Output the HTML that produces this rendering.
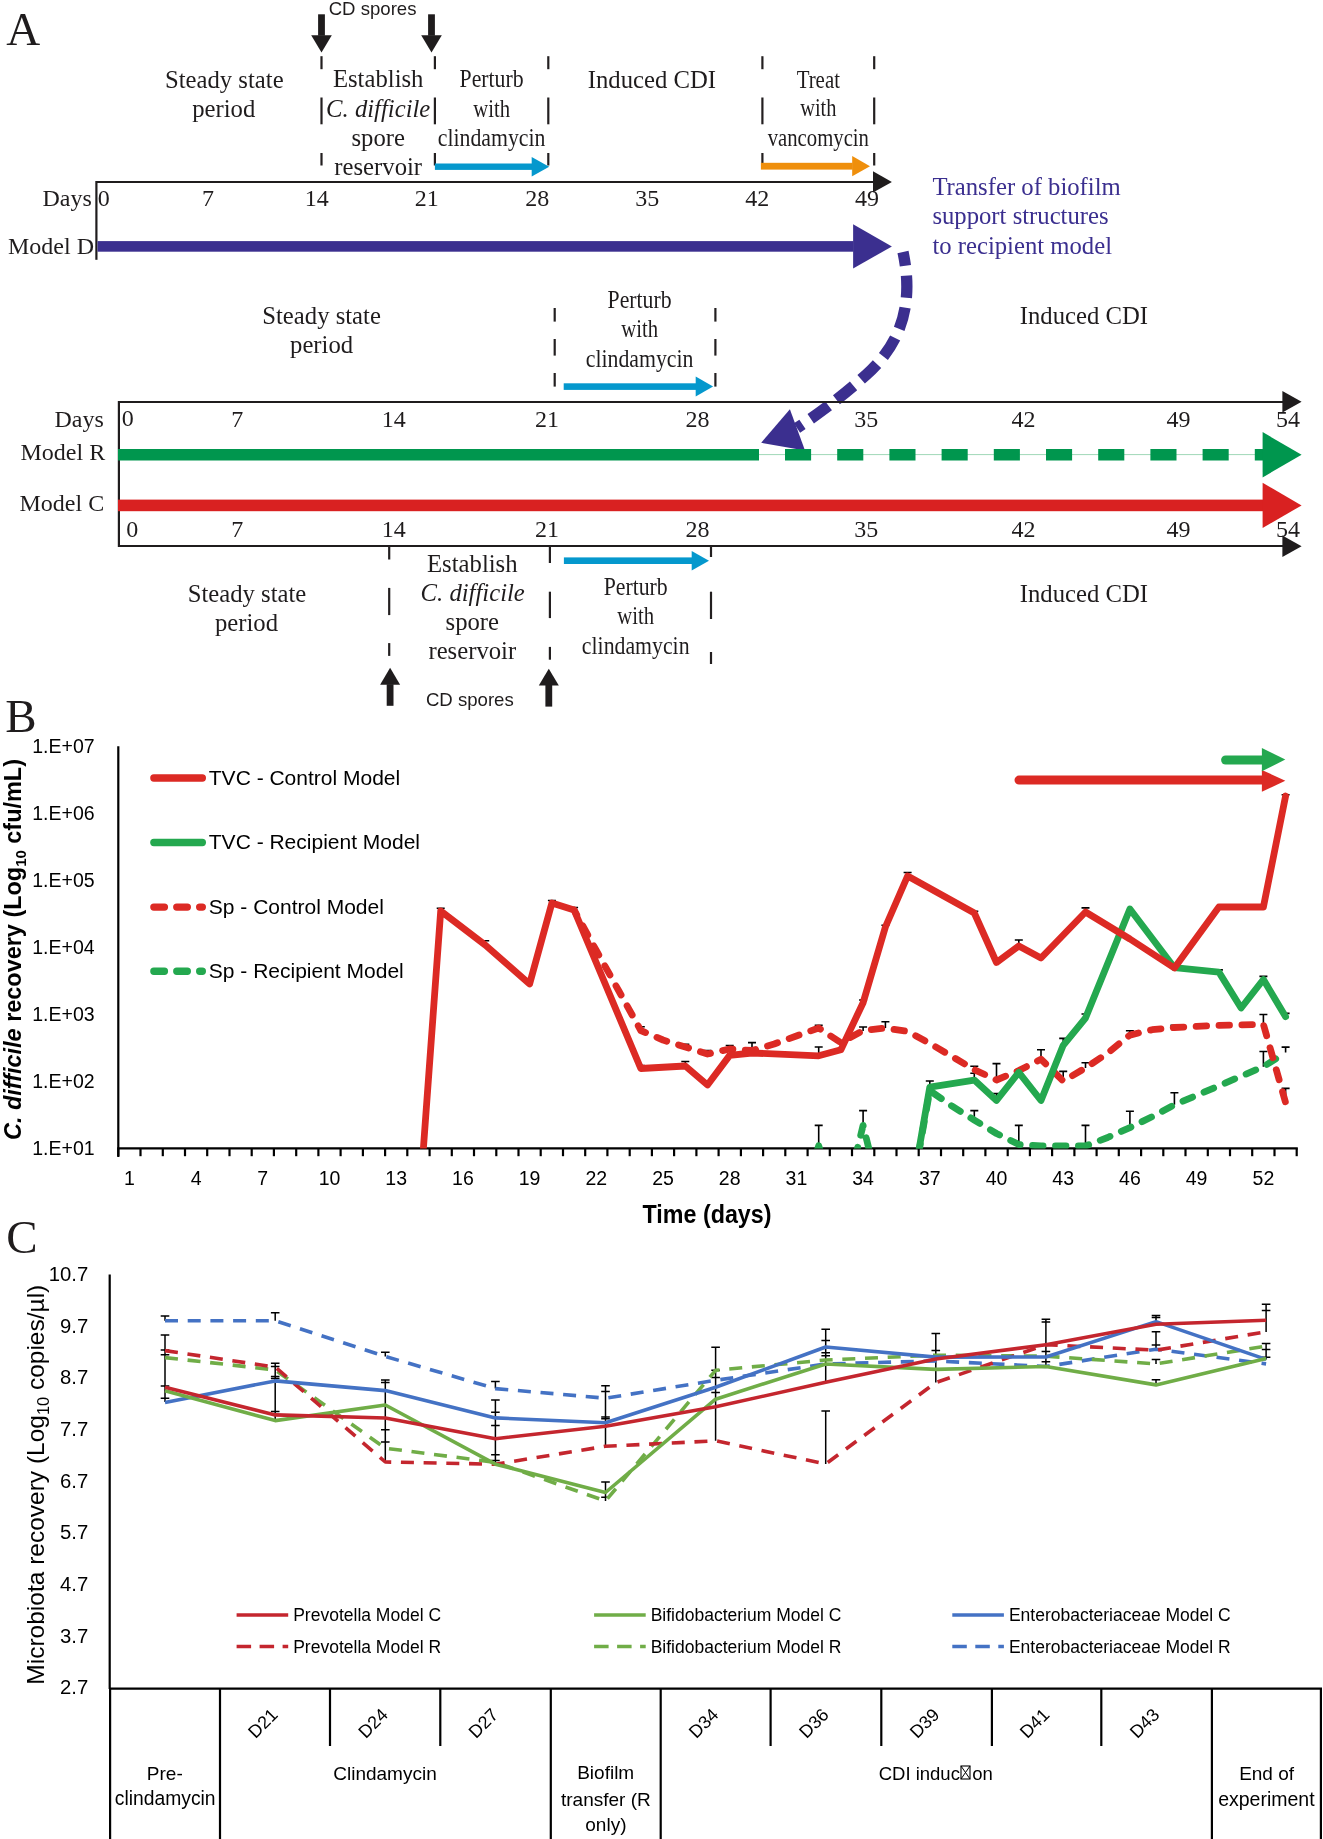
<!DOCTYPE html>
<html><head><meta charset="utf-8"><title>figure</title>
<style>
html,body{margin:0;padding:0;background:#fff;}
body{width:1323px;height:1839px;overflow:hidden;}
svg{display:block;}
svg{will-change:transform;}
</style></head>
<body>
<svg width="1323" height="1839" viewBox="0 0 1323 1839">
<rect width="1323" height="1839" fill="#fff"/>
<text x="23.2" y="44.7" font-family='"Liberation Serif", serif' font-size="47" text-anchor="middle" fill="#1f1c1d" >A</text>
<rect x="318.1" y="14.3" width="6.8" height="21.4" fill="#1f1c1d"/>
<polygon points="311.2,35.2 321.5,52.6 331.8,35.2" fill="#1f1c1d"/>
<rect x="428.1" y="14.3" width="6.8" height="21.4" fill="#1f1c1d"/>
<polygon points="421.2,35.2 431.5,52.6 441.8,35.2" fill="#1f1c1d"/>
<text x="372.6" y="14.6" font-family='"Liberation Sans", sans-serif' font-size="18.6" text-anchor="middle" fill="#1f1c1d" >CD spores</text>
<line x1="321.5" y1="56.2" x2="321.5" y2="69.2" stroke="#231f20" stroke-width="2.2" />
<line x1="321.5" y1="97.5" x2="321.5" y2="124.3" stroke="#231f20" stroke-width="2.2" />
<line x1="321.5" y1="153.0" x2="321.5" y2="165.5" stroke="#231f20" stroke-width="2.2" />
<line x1="434.9" y1="56.2" x2="434.9" y2="69.2" stroke="#231f20" stroke-width="2.2" />
<line x1="434.9" y1="97.5" x2="434.9" y2="124.3" stroke="#231f20" stroke-width="2.2" />
<line x1="434.9" y1="153.0" x2="434.9" y2="165.5" stroke="#231f20" stroke-width="2.2" />
<line x1="548.3" y1="56.2" x2="548.3" y2="69.2" stroke="#231f20" stroke-width="2.2" />
<line x1="548.3" y1="97.5" x2="548.3" y2="124.3" stroke="#231f20" stroke-width="2.2" />
<line x1="548.3" y1="153.0" x2="548.3" y2="165.5" stroke="#231f20" stroke-width="2.2" />
<line x1="762.4" y1="56.2" x2="762.4" y2="69.2" stroke="#231f20" stroke-width="2.2" />
<line x1="762.4" y1="97.5" x2="762.4" y2="124.3" stroke="#231f20" stroke-width="2.2" />
<line x1="762.4" y1="153.0" x2="762.4" y2="165.5" stroke="#231f20" stroke-width="2.2" />
<line x1="874.2" y1="56.2" x2="874.2" y2="69.2" stroke="#231f20" stroke-width="2.2" />
<line x1="874.2" y1="97.5" x2="874.2" y2="124.3" stroke="#231f20" stroke-width="2.2" />
<line x1="874.2" y1="153.0" x2="874.2" y2="165.5" stroke="#231f20" stroke-width="2.2" />
<text x="224.3" y="88.0" font-family='"Liberation Serif", serif' font-size="24.7" text-anchor="middle" fill="#1f1c1d" >Steady state</text>
<text x="223.7" y="117.1" font-family='"Liberation Serif", serif' font-size="24.7" text-anchor="middle" fill="#1f1c1d" >period</text>
<text x="378.2" y="87.3" font-family='"Liberation Serif", serif' font-size="24.7" text-anchor="middle" fill="#1f1c1d" >Establish</text>
<text x="378.2" y="116.8" font-family='"Liberation Serif", serif' font-size="24.7" text-anchor="middle" fill="#1f1c1d" ><tspan font-style="italic">C. difficile</tspan></text>
<text x="378.2" y="145.5" font-family='"Liberation Serif", serif' font-size="24.7" text-anchor="middle" fill="#1f1c1d" >spore</text>
<text x="378.2" y="174.6" font-family='"Liberation Serif", serif' font-size="24.7" text-anchor="middle" fill="#1f1c1d" >reservoir</text>
<text transform="translate(491.6,87.3) scale(0.882,1)" font-family='"Liberation Serif", serif' font-size="24.7" text-anchor="middle" fill="#1f1c1d" >Perturb</text>
<text transform="translate(491.6,116.8) scale(0.84,1)" font-family='"Liberation Serif", serif' font-size="24.7" text-anchor="middle" fill="#1f1c1d" >with</text>
<text transform="translate(491.6,145.5) scale(0.883,1)" font-family='"Liberation Serif", serif' font-size="24.7" text-anchor="middle" fill="#1f1c1d" >clindamycin</text>
<text x="651.9" y="88.0" font-family='"Liberation Serif", serif' font-size="24.7" text-anchor="middle" fill="#1f1c1d" >Induced CDI</text>
<text transform="translate(818.3,87.6) scale(0.845,1)" font-family='"Liberation Serif", serif' font-size="24.7" text-anchor="middle" fill="#1f1c1d" >Treat</text>
<text transform="translate(818.3,116.3) scale(0.826,1)" font-family='"Liberation Serif", serif' font-size="24.7" text-anchor="middle" fill="#1f1c1d" >with</text>
<text transform="translate(818.3,145.8) scale(0.84,1)" font-family='"Liberation Serif", serif' font-size="24.7" text-anchor="middle" fill="#1f1c1d" >vancomycin</text>
<rect x="434.9" y="163.5" width="97.3" height="6.4" fill="#0598cd"/>
<polygon points="531.7,156.9 549.2,166.7 531.7,176.4" fill="#0598cd"/>
<rect x="760.9" y="162.8" width="91.8" height="6.8" fill="#ef8f0c"/>
<polygon points="852.2,156.0 870.0,166.2 852.2,176.3" fill="#ef8f0c"/>
<line x1="96.4" y1="182.0" x2="875.0" y2="182.0" stroke="#1f1c1d" stroke-width="2.2" />
<polygon points="873.0,171.2 891.9,181.9 873.0,192.5" fill="#1f1c1d"/>
<line x1="96.4" y1="181.0" x2="96.4" y2="259.8" stroke="#1f1c1d" stroke-width="2.2" />
<text x="91.8" y="206.0" font-family='"Liberation Serif", serif' font-size="24" text-anchor="end" fill="#1f1c1d" >Days</text>
<text x="97.8" y="206.0" font-family='"Liberation Serif", serif' font-size="24" text-anchor="start" fill="#1f1c1d" >0</text>
<text x="208.0" y="206.0" font-family='"Liberation Serif", serif' font-size="24" text-anchor="middle" fill="#1f1c1d" >7</text>
<text x="316.7" y="206.0" font-family='"Liberation Serif", serif' font-size="24" text-anchor="middle" fill="#1f1c1d" >14</text>
<text x="426.7" y="206.0" font-family='"Liberation Serif", serif' font-size="24" text-anchor="middle" fill="#1f1c1d" >21</text>
<text x="537.2" y="206.0" font-family='"Liberation Serif", serif' font-size="24" text-anchor="middle" fill="#1f1c1d" >28</text>
<text x="647.2" y="206.0" font-family='"Liberation Serif", serif' font-size="24" text-anchor="middle" fill="#1f1c1d" >35</text>
<text x="757.2" y="206.0" font-family='"Liberation Serif", serif' font-size="24" text-anchor="middle" fill="#1f1c1d" >42</text>
<text x="867.0" y="206.0" font-family='"Liberation Serif", serif' font-size="24" text-anchor="middle" fill="#1f1c1d" >49</text>
<text x="94.0" y="253.7" font-family='"Liberation Serif", serif' font-size="24" text-anchor="end" fill="#1f1c1d" >Model D</text>
<rect x="97.5" y="241.1" width="756.1" height="10.6" fill="#3b2f8f"/>
<polygon points="853.1,224.2 891.9,246.4 853.1,268.6" fill="#3b2f8f"/>
<text x="932.4" y="194.6" font-family='"Liberation Serif", serif' font-size="24.7" text-anchor="start" fill="#3b2f8f" >Transfer of biofilm</text>
<text x="932.4" y="224.1" font-family='"Liberation Serif", serif' font-size="24.7" text-anchor="start" fill="#3b2f8f" >support structures</text>
<text x="932.4" y="253.6" font-family='"Liberation Serif", serif' font-size="24.7" text-anchor="start" fill="#3b2f8f" >to recipient model</text>
<path d="M 903 252 C 911 290, 910 336, 866 375 C 846 393, 823 411, 797 428" fill="none" stroke="#3b2f8f" stroke-width="11.3" stroke-dasharray="22 10" stroke-dashoffset="8"/>
<polygon points="761.2,442.8 789.9,409.2 805.0,450.4" fill="#3b2f8f"/>
<text x="321.6" y="323.5" font-family='"Liberation Serif", serif' font-size="24.7" text-anchor="middle" fill="#1f1c1d" >Steady state</text>
<text x="321.6" y="352.6" font-family='"Liberation Serif", serif' font-size="24.7" text-anchor="middle" fill="#1f1c1d" >period</text>
<text transform="translate(639.6,307.7) scale(0.882,1)" font-family='"Liberation Serif", serif' font-size="24.7" text-anchor="middle" fill="#1f1c1d" >Perturb</text>
<text transform="translate(639.6,337.1) scale(0.84,1)" font-family='"Liberation Serif", serif' font-size="24.7" text-anchor="middle" fill="#1f1c1d" >with</text>
<text transform="translate(639.6,366.5) scale(0.883,1)" font-family='"Liberation Serif", serif' font-size="24.7" text-anchor="middle" fill="#1f1c1d" >clindamycin</text>
<text x="1083.9" y="323.6" font-family='"Liberation Serif", serif' font-size="24.7" text-anchor="middle" fill="#1f1c1d" >Induced CDI</text>
<line x1="554.7" y1="308.0" x2="554.7" y2="321.6" stroke="#231f20" stroke-width="2.2" />
<line x1="554.7" y1="339.0" x2="554.7" y2="355.6" stroke="#231f20" stroke-width="2.2" />
<line x1="554.7" y1="373.0" x2="554.7" y2="386.6" stroke="#231f20" stroke-width="2.2" />
<line x1="715.4" y1="308.0" x2="715.4" y2="321.6" stroke="#231f20" stroke-width="2.2" />
<line x1="715.4" y1="339.0" x2="715.4" y2="355.6" stroke="#231f20" stroke-width="2.2" />
<line x1="715.4" y1="373.0" x2="715.4" y2="386.6" stroke="#231f20" stroke-width="2.2" />
<rect x="563.7" y="383.3" width="132.5" height="6.6" fill="#0598cd"/>
<polygon points="695.7,376.6 713.1,386.6 695.7,396.6" fill="#0598cd"/>
<line x1="118.9" y1="402.0" x2="1284.0" y2="402.0" stroke="#1f1c1d" stroke-width="2.2" />
<polygon points="1282.4,391.0 1301.6,401.7 1282.4,412.4" fill="#1f1c1d"/>
<line x1="118.9" y1="401.0" x2="118.9" y2="547.0" stroke="#1f1c1d" stroke-width="2.2" />
<line x1="118.9" y1="546.0" x2="1284.0" y2="546.0" stroke="#1f1c1d" stroke-width="2.2" />
<polygon points="1282.4,535.6 1301.6,546.2 1282.4,557.0" fill="#1f1c1d"/>
<text x="103.8" y="426.8" font-family='"Liberation Serif", serif' font-size="24" text-anchor="end" fill="#1f1c1d" >Days</text>
<text x="105.2" y="460.2" font-family='"Liberation Serif", serif' font-size="24" text-anchor="end" fill="#1f1c1d" >Model R</text>
<text x="104.2" y="510.7" font-family='"Liberation Serif", serif' font-size="24" text-anchor="end" fill="#1f1c1d" >Model C</text>
<text x="127.8" y="425.5" font-family='"Liberation Serif", serif' font-size="24" text-anchor="middle" fill="#1f1c1d" >0</text>
<text x="132.2" y="537.2" font-family='"Liberation Serif", serif' font-size="24" text-anchor="middle" fill="#1f1c1d" >0</text>
<text x="237.3" y="426.5" font-family='"Liberation Serif", serif' font-size="24" text-anchor="middle" fill="#1f1c1d" >7</text>
<text x="237.3" y="537.2" font-family='"Liberation Serif", serif' font-size="24" text-anchor="middle" fill="#1f1c1d" >7</text>
<text x="393.7" y="426.5" font-family='"Liberation Serif", serif' font-size="24" text-anchor="middle" fill="#1f1c1d" >14</text>
<text x="393.7" y="537.2" font-family='"Liberation Serif", serif' font-size="24" text-anchor="middle" fill="#1f1c1d" >14</text>
<text x="547.0" y="426.5" font-family='"Liberation Serif", serif' font-size="24" text-anchor="middle" fill="#1f1c1d" >21</text>
<text x="547.0" y="537.2" font-family='"Liberation Serif", serif' font-size="24" text-anchor="middle" fill="#1f1c1d" >21</text>
<text x="697.6" y="426.5" font-family='"Liberation Serif", serif' font-size="24" text-anchor="middle" fill="#1f1c1d" >28</text>
<text x="697.6" y="537.2" font-family='"Liberation Serif", serif' font-size="24" text-anchor="middle" fill="#1f1c1d" >28</text>
<text x="866.2" y="426.5" font-family='"Liberation Serif", serif' font-size="24" text-anchor="middle" fill="#1f1c1d" >35</text>
<text x="866.2" y="537.2" font-family='"Liberation Serif", serif' font-size="24" text-anchor="middle" fill="#1f1c1d" >35</text>
<text x="1023.5" y="426.5" font-family='"Liberation Serif", serif' font-size="24" text-anchor="middle" fill="#1f1c1d" >42</text>
<text x="1023.5" y="537.2" font-family='"Liberation Serif", serif' font-size="24" text-anchor="middle" fill="#1f1c1d" >42</text>
<text x="1178.4" y="426.5" font-family='"Liberation Serif", serif' font-size="24" text-anchor="middle" fill="#1f1c1d" >49</text>
<text x="1178.4" y="537.2" font-family='"Liberation Serif", serif' font-size="24" text-anchor="middle" fill="#1f1c1d" >49</text>
<text x="1287.9" y="426.5" font-family='"Liberation Serif", serif' font-size="24" text-anchor="middle" fill="#1f1c1d" >54</text>
<text x="1287.9" y="537.2" font-family='"Liberation Serif", serif' font-size="24" text-anchor="middle" fill="#1f1c1d" >54</text>
<rect x="118" y="449" width="641" height="11.5" fill="#00964e"/>
<line x1="759" y1="454.6" x2="1265" y2="454.6" stroke="#9fd8b8" stroke-width="1"/>
<rect x="785.0" y="449" width="26.1" height="11.5" fill="#00964e"/>
<rect x="837.2" y="449" width="26.1" height="11.5" fill="#00964e"/>
<rect x="889.4" y="449" width="26.1" height="11.5" fill="#00964e"/>
<rect x="941.6" y="449" width="26.1" height="11.5" fill="#00964e"/>
<rect x="993.8" y="449" width="26.1" height="11.5" fill="#00964e"/>
<rect x="1046.0" y="449" width="26.1" height="11.5" fill="#00964e"/>
<rect x="1098.2" y="449" width="26.1" height="11.5" fill="#00964e"/>
<rect x="1150.4" y="449" width="26.1" height="11.5" fill="#00964e"/>
<rect x="1202.6" y="449" width="26.1" height="11.5" fill="#00964e"/>
<rect x="1254.8" y="449" width="8.2" height="11.5" fill="#00964e"/>
<polygon points="1262.6,432.1 1301.6,454.8 1262.6,477.4" fill="#00964e"/>
<rect x="118.0" y="499.6" width="1145.1" height="11.6" fill="#d92121"/>
<polygon points="1262.6,482.8 1301.6,505.4 1262.6,528.0" fill="#d92121"/>
<line x1="389.2" y1="546.0" x2="389.2" y2="559.5" stroke="#231f20" stroke-width="2.2" />
<line x1="389.2" y1="587.9" x2="389.2" y2="615.1" stroke="#231f20" stroke-width="2.2" />
<line x1="389.2" y1="643.1" x2="389.2" y2="655.9" stroke="#231f20" stroke-width="2.2" />
<line x1="549.9" y1="546.0" x2="549.9" y2="563.0" stroke="#231f20" stroke-width="2.2" />
<line x1="549.9" y1="591.7" x2="549.9" y2="618.1" stroke="#231f20" stroke-width="2.2" />
<line x1="549.9" y1="646.9" x2="549.9" y2="659.7" stroke="#231f20" stroke-width="2.2" />
<line x1="711.0" y1="546.0" x2="711.0" y2="557.0" stroke="#231f20" stroke-width="2.2" />
<line x1="711.0" y1="591.7" x2="711.0" y2="619.0" stroke="#231f20" stroke-width="2.2" />
<line x1="711.0" y1="652.0" x2="711.0" y2="664.0" stroke="#231f20" stroke-width="2.2" />
<rect x="563.9" y="557.4" width="128.3" height="6.6" fill="#0598cd"/>
<polygon points="691.7,551.1 709.0,560.7 691.7,570.4" fill="#0598cd"/>
<text x="247.0" y="602.0" font-family='"Liberation Serif", serif' font-size="24.7" text-anchor="middle" fill="#1f1c1d" >Steady state</text>
<text x="246.5" y="631.2" font-family='"Liberation Serif", serif' font-size="24.7" text-anchor="middle" fill="#1f1c1d" >period</text>
<text x="472.3" y="571.6" font-family='"Liberation Serif", serif' font-size="24.7" text-anchor="middle" fill="#1f1c1d" >Establish</text>
<text x="472.7" y="600.9" font-family='"Liberation Serif", serif' font-size="24.7" text-anchor="middle" fill="#1f1c1d" ><tspan font-style="italic">C. difficile</tspan></text>
<text x="472.3" y="629.8" font-family='"Liberation Serif", serif' font-size="24.7" text-anchor="middle" fill="#1f1c1d" >spore</text>
<text x="472.3" y="659.2" font-family='"Liberation Serif", serif' font-size="24.7" text-anchor="middle" fill="#1f1c1d" >reservoir</text>
<text transform="translate(635.7,594.6) scale(0.882,1)" font-family='"Liberation Serif", serif' font-size="24.7" text-anchor="middle" fill="#1f1c1d" >Perturb</text>
<text transform="translate(635.7,623.9) scale(0.84,1)" font-family='"Liberation Serif", serif' font-size="24.7" text-anchor="middle" fill="#1f1c1d" >with</text>
<text transform="translate(635.7,653.5) scale(0.883,1)" font-family='"Liberation Serif", serif' font-size="24.7" text-anchor="middle" fill="#1f1c1d" >clindamycin</text>
<text x="1083.9" y="602.0" font-family='"Liberation Serif", serif' font-size="24.7" text-anchor="middle" fill="#1f1c1d" >Induced CDI</text>
<rect x="386.7" y="684.2" width="6.8" height="21.6" fill="#1f1c1d"/>
<polygon points="380.1,684.7 390.1,667.7 400.1,684.7" fill="#1f1c1d"/>
<rect x="545.4" y="684.9" width="6.8" height="21.7" fill="#1f1c1d"/>
<polygon points="538.8,685.4 548.8,668.8 558.8,685.4" fill="#1f1c1d"/>
<text x="469.8" y="705.5" font-family='"Liberation Sans", sans-serif' font-size="18.6" text-anchor="middle" fill="#1f1c1d" >CD spores</text>
<text x="21.0" y="731.6" font-family='"Liberation Serif", serif' font-size="47" text-anchor="middle" fill="#1f1c1d" >B</text>
<line x1="118.3" y1="746.2" x2="118.3" y2="1157.0" stroke="#000" stroke-width="2.2" />
<line x1="117.2" y1="1148.4" x2="1297.8" y2="1148.4" stroke="#000" stroke-width="2.4" />
<line x1="118.3" y1="1148.4" x2="118.3" y2="1156.2" stroke="#000" stroke-width="2.2" />
<line x1="140.5" y1="1148.4" x2="140.5" y2="1156.2" stroke="#000" stroke-width="2.2" />
<line x1="162.8" y1="1148.4" x2="162.8" y2="1156.2" stroke="#000" stroke-width="2.2" />
<line x1="185.0" y1="1148.4" x2="185.0" y2="1156.2" stroke="#000" stroke-width="2.2" />
<line x1="207.2" y1="1148.4" x2="207.2" y2="1156.2" stroke="#000" stroke-width="2.2" />
<line x1="229.5" y1="1148.4" x2="229.5" y2="1156.2" stroke="#000" stroke-width="2.2" />
<line x1="251.7" y1="1148.4" x2="251.7" y2="1156.2" stroke="#000" stroke-width="2.2" />
<line x1="273.9" y1="1148.4" x2="273.9" y2="1156.2" stroke="#000" stroke-width="2.2" />
<line x1="296.2" y1="1148.4" x2="296.2" y2="1156.2" stroke="#000" stroke-width="2.2" />
<line x1="318.4" y1="1148.4" x2="318.4" y2="1156.2" stroke="#000" stroke-width="2.2" />
<line x1="340.6" y1="1148.4" x2="340.6" y2="1156.2" stroke="#000" stroke-width="2.2" />
<line x1="362.9" y1="1148.4" x2="362.9" y2="1156.2" stroke="#000" stroke-width="2.2" />
<line x1="385.1" y1="1148.4" x2="385.1" y2="1156.2" stroke="#000" stroke-width="2.2" />
<line x1="407.3" y1="1148.4" x2="407.3" y2="1156.2" stroke="#000" stroke-width="2.2" />
<line x1="429.6" y1="1148.4" x2="429.6" y2="1156.2" stroke="#000" stroke-width="2.2" />
<line x1="451.8" y1="1148.4" x2="451.8" y2="1156.2" stroke="#000" stroke-width="2.2" />
<line x1="474.0" y1="1148.4" x2="474.0" y2="1156.2" stroke="#000" stroke-width="2.2" />
<line x1="496.3" y1="1148.4" x2="496.3" y2="1156.2" stroke="#000" stroke-width="2.2" />
<line x1="518.5" y1="1148.4" x2="518.5" y2="1156.2" stroke="#000" stroke-width="2.2" />
<line x1="540.7" y1="1148.4" x2="540.7" y2="1156.2" stroke="#000" stroke-width="2.2" />
<line x1="563.0" y1="1148.4" x2="563.0" y2="1156.2" stroke="#000" stroke-width="2.2" />
<line x1="585.2" y1="1148.4" x2="585.2" y2="1156.2" stroke="#000" stroke-width="2.2" />
<line x1="607.4" y1="1148.4" x2="607.4" y2="1156.2" stroke="#000" stroke-width="2.2" />
<line x1="629.7" y1="1148.4" x2="629.7" y2="1156.2" stroke="#000" stroke-width="2.2" />
<line x1="651.9" y1="1148.4" x2="651.9" y2="1156.2" stroke="#000" stroke-width="2.2" />
<line x1="674.1" y1="1148.4" x2="674.1" y2="1156.2" stroke="#000" stroke-width="2.2" />
<line x1="696.4" y1="1148.4" x2="696.4" y2="1156.2" stroke="#000" stroke-width="2.2" />
<line x1="718.6" y1="1148.4" x2="718.6" y2="1156.2" stroke="#000" stroke-width="2.2" />
<line x1="740.9" y1="1148.4" x2="740.9" y2="1156.2" stroke="#000" stroke-width="2.2" />
<line x1="763.1" y1="1148.4" x2="763.1" y2="1156.2" stroke="#000" stroke-width="2.2" />
<line x1="785.3" y1="1148.4" x2="785.3" y2="1156.2" stroke="#000" stroke-width="2.2" />
<line x1="807.6" y1="1148.4" x2="807.6" y2="1156.2" stroke="#000" stroke-width="2.2" />
<line x1="829.8" y1="1148.4" x2="829.8" y2="1156.2" stroke="#000" stroke-width="2.2" />
<line x1="852.0" y1="1148.4" x2="852.0" y2="1156.2" stroke="#000" stroke-width="2.2" />
<line x1="874.3" y1="1148.4" x2="874.3" y2="1156.2" stroke="#000" stroke-width="2.2" />
<line x1="896.5" y1="1148.4" x2="896.5" y2="1156.2" stroke="#000" stroke-width="2.2" />
<line x1="918.7" y1="1148.4" x2="918.7" y2="1156.2" stroke="#000" stroke-width="2.2" />
<line x1="941.0" y1="1148.4" x2="941.0" y2="1156.2" stroke="#000" stroke-width="2.2" />
<line x1="963.2" y1="1148.4" x2="963.2" y2="1156.2" stroke="#000" stroke-width="2.2" />
<line x1="985.4" y1="1148.4" x2="985.4" y2="1156.2" stroke="#000" stroke-width="2.2" />
<line x1="1007.7" y1="1148.4" x2="1007.7" y2="1156.2" stroke="#000" stroke-width="2.2" />
<line x1="1029.9" y1="1148.4" x2="1029.9" y2="1156.2" stroke="#000" stroke-width="2.2" />
<line x1="1052.1" y1="1148.4" x2="1052.1" y2="1156.2" stroke="#000" stroke-width="2.2" />
<line x1="1074.4" y1="1148.4" x2="1074.4" y2="1156.2" stroke="#000" stroke-width="2.2" />
<line x1="1096.6" y1="1148.4" x2="1096.6" y2="1156.2" stroke="#000" stroke-width="2.2" />
<line x1="1118.8" y1="1148.4" x2="1118.8" y2="1156.2" stroke="#000" stroke-width="2.2" />
<line x1="1141.1" y1="1148.4" x2="1141.1" y2="1156.2" stroke="#000" stroke-width="2.2" />
<line x1="1163.3" y1="1148.4" x2="1163.3" y2="1156.2" stroke="#000" stroke-width="2.2" />
<line x1="1185.5" y1="1148.4" x2="1185.5" y2="1156.2" stroke="#000" stroke-width="2.2" />
<line x1="1207.8" y1="1148.4" x2="1207.8" y2="1156.2" stroke="#000" stroke-width="2.2" />
<line x1="1230.0" y1="1148.4" x2="1230.0" y2="1156.2" stroke="#000" stroke-width="2.2" />
<line x1="1252.2" y1="1148.4" x2="1252.2" y2="1156.2" stroke="#000" stroke-width="2.2" />
<line x1="1274.5" y1="1148.4" x2="1274.5" y2="1156.2" stroke="#000" stroke-width="2.2" />
<line x1="1296.7" y1="1148.4" x2="1296.7" y2="1156.2" stroke="#000" stroke-width="2.2" />
<text x="94.6" y="752.7" font-family='"Liberation Sans", sans-serif' font-size="19.5" text-anchor="end" fill="#000" >1.E+07</text>
<text x="94.6" y="819.8" font-family='"Liberation Sans", sans-serif' font-size="19.5" text-anchor="end" fill="#000" >1.E+06</text>
<text x="94.6" y="886.8" font-family='"Liberation Sans", sans-serif' font-size="19.5" text-anchor="end" fill="#000" >1.E+05</text>
<text x="94.6" y="953.9" font-family='"Liberation Sans", sans-serif' font-size="19.5" text-anchor="end" fill="#000" >1.E+04</text>
<text x="94.6" y="1020.9" font-family='"Liberation Sans", sans-serif' font-size="19.5" text-anchor="end" fill="#000" >1.E+03</text>
<text x="94.6" y="1088.0" font-family='"Liberation Sans", sans-serif' font-size="19.5" text-anchor="end" fill="#000" >1.E+02</text>
<text x="94.6" y="1155.0" font-family='"Liberation Sans", sans-serif' font-size="19.5" text-anchor="end" fill="#000" >1.E+01</text>
<text x="129.4" y="1185.3" font-family='"Liberation Sans", sans-serif' font-size="19.5" text-anchor="middle" fill="#000" >1</text>
<text x="196.1" y="1185.3" font-family='"Liberation Sans", sans-serif' font-size="19.5" text-anchor="middle" fill="#000" >4</text>
<text x="262.8" y="1185.3" font-family='"Liberation Sans", sans-serif' font-size="19.5" text-anchor="middle" fill="#000" >7</text>
<text x="329.5" y="1185.3" font-family='"Liberation Sans", sans-serif' font-size="19.5" text-anchor="middle" fill="#000" >10</text>
<text x="396.2" y="1185.3" font-family='"Liberation Sans", sans-serif' font-size="19.5" text-anchor="middle" fill="#000" >13</text>
<text x="462.9" y="1185.3" font-family='"Liberation Sans", sans-serif' font-size="19.5" text-anchor="middle" fill="#000" >16</text>
<text x="529.6" y="1185.3" font-family='"Liberation Sans", sans-serif' font-size="19.5" text-anchor="middle" fill="#000" >19</text>
<text x="596.3" y="1185.3" font-family='"Liberation Sans", sans-serif' font-size="19.5" text-anchor="middle" fill="#000" >22</text>
<text x="663.0" y="1185.3" font-family='"Liberation Sans", sans-serif' font-size="19.5" text-anchor="middle" fill="#000" >25</text>
<text x="729.7" y="1185.3" font-family='"Liberation Sans", sans-serif' font-size="19.5" text-anchor="middle" fill="#000" >28</text>
<text x="796.4" y="1185.3" font-family='"Liberation Sans", sans-serif' font-size="19.5" text-anchor="middle" fill="#000" >31</text>
<text x="863.1" y="1185.3" font-family='"Liberation Sans", sans-serif' font-size="19.5" text-anchor="middle" fill="#000" >34</text>
<text x="929.8" y="1185.3" font-family='"Liberation Sans", sans-serif' font-size="19.5" text-anchor="middle" fill="#000" >37</text>
<text x="996.5" y="1185.3" font-family='"Liberation Sans", sans-serif' font-size="19.5" text-anchor="middle" fill="#000" >40</text>
<text x="1063.2" y="1185.3" font-family='"Liberation Sans", sans-serif' font-size="19.5" text-anchor="middle" fill="#000" >43</text>
<text x="1129.9" y="1185.3" font-family='"Liberation Sans", sans-serif' font-size="19.5" text-anchor="middle" fill="#000" >46</text>
<text x="1196.6" y="1185.3" font-family='"Liberation Sans", sans-serif' font-size="19.5" text-anchor="middle" fill="#000" >49</text>
<text x="1263.4" y="1185.3" font-family='"Liberation Sans", sans-serif' font-size="19.5" text-anchor="middle" fill="#000" >52</text>
<text x="707.0" y="1223.3" font-family='"Liberation Sans", sans-serif' font-size="25" text-anchor="middle" fill="#000" font-weight="bold" textLength="129" lengthAdjust="spacingAndGlyphs">Time (days)</text>
<text transform="translate(20.8,949.5) rotate(-90)" font-family='"Liberation Sans", sans-serif' font-size="23.5" font-weight="bold" text-anchor="middle" fill="#000" textLength="381" lengthAdjust="spacingAndGlyphs"><tspan font-style="italic">C. difficile</tspan> recovery (Log<tspan font-size="15" dy="5">10</tspan><tspan dy="-5"> cfu/mL)</tspan></text>
<line x1="153.9" y1="778.0" x2="202.3" y2="778.0" stroke="#dc2a24" stroke-width="7.4" stroke-linecap="round" />
<text x="208.8" y="785.0" font-family='"Liberation Sans", sans-serif' font-size="21" text-anchor="start" fill="#000" >TVC - Control Model</text>
<line x1="153.9" y1="842.5" x2="202.3" y2="842.5" stroke="#24a84f" stroke-width="7.4" stroke-linecap="round" />
<text x="208.8" y="849.3" font-family='"Liberation Sans", sans-serif' font-size="21" text-anchor="start" fill="#000" >TVC - Recipient Model</text>
<line x1="153.9" y1="907.1" x2="202.3" y2="907.1" stroke="#dc2a24" stroke-width="7.4" stroke-linecap="round" stroke-dasharray="10.5 12.4"/>
<text x="208.8" y="913.9" font-family='"Liberation Sans", sans-serif' font-size="21" text-anchor="start" fill="#000" >Sp - Control Model</text>
<line x1="153.9" y1="971.2" x2="202.3" y2="971.2" stroke="#24a84f" stroke-width="7.4" stroke-linecap="round" stroke-dasharray="10.5 12.4"/>
<text x="208.8" y="978.0" font-family='"Liberation Sans", sans-serif' font-size="21" text-anchor="start" fill="#000" >Sp - Recipient Model</text>
<line x1="1019" y1="780.1" x2="1263" y2="780.1" stroke="#dc2a24" stroke-width="9" stroke-linecap="round"/>
<polygon points="1261.9,769.9 1285.3,780.8 1261.9,791.7" fill="#dc2a24"/>
<line x1="1225.6" y1="760" x2="1263" y2="760" stroke="#24a84f" stroke-width="9" stroke-linecap="round"/>
<polygon points="1261.9,747.9 1285.3,759.6 1261.9,771.3" fill="#24a84f"/>
<defs><clipPath id="plotB"><rect x="119" y="700" width="1200" height="448.4"/></clipPath></defs>
<path d="M 440.7 911.0 V 908.3 M 436.7 908.3 H 444.7 M 485.2 942.4 V 940.7 M 481.2 940.7 H 489.2 M 529.6 982.0 V 979.5 M 525.6 979.5 H 533.6 M 551.9 903.0 V 900.5 M 547.9 900.5 H 555.9 M 574.1 910.0 V 907.5 M 570.1 907.5 H 578.1 M 640.8 1030.5 V 1026.8 M 636.8 1026.8 H 644.8 M 640.8 1068.5 V 1065.5 M 636.8 1065.5 H 644.8 M 685.3 1048.0 V 1044.3 M 681.3 1044.3 H 689.3 M 685.3 1066.0 V 1061.5 M 681.3 1061.5 H 689.3 M 707.5 1054.5 V 1050.6 M 703.5 1050.6 H 711.5 M 729.7 1049.0 V 1045.5 M 725.7 1045.5 H 733.7 M 752.0 1050.0 V 1042.6 M 748.0 1042.6 H 756.0 M 818.7 1028.0 V 1025.3 M 814.7 1025.3 H 822.7 M 818.7 1055.8 V 1047.0 M 814.7 1047.0 H 822.7 M 818.7 1148.0 V 1125.4 M 814.7 1125.4 H 822.7 M 863.1 1002.7 V 1000.0 M 859.1 1000.0 H 867.1 M 863.1 1031.0 V 1027.0 M 859.1 1027.0 H 867.1 M 863.1 1125.4 V 1110.6 M 859.1 1110.6 H 867.1 M 885.4 927.0 V 925.3 M 881.4 925.3 H 889.4 M 885.4 1028.0 V 1021.8 M 881.4 1021.8 H 889.4 M 907.6 876.0 V 872.5 M 903.6 872.5 H 911.6 M 929.8 1087.1 V 1081.0 M 925.8 1081.0 H 933.8 M 974.3 913.0 V 911.3 M 970.3 911.3 H 978.3 M 974.3 1069.7 V 1066.2 M 970.3 1066.2 H 978.3 M 974.3 1080.1 V 1073.2 M 970.3 1073.2 H 978.3 M 974.3 1120.1 V 1110.6 M 970.3 1110.6 H 978.3 M 996.5 1080.0 V 1063.6 M 992.5 1063.6 H 1000.5 M 996.5 1100.5 V 1093.5 M 992.5 1093.5 H 1000.5 M 1018.8 946.0 V 940.0 M 1014.8 940.0 H 1022.8 M 1018.8 1072.3 V 1069.7 M 1014.8 1069.7 H 1022.8 M 1018.8 1144.5 V 1125.4 M 1014.8 1125.4 H 1022.8 M 1041.0 1059.2 V 1049.7 M 1037.0 1049.7 H 1045.0 M 1063.2 1045.3 V 1038.4 M 1059.2 1038.4 H 1067.2 M 1063.2 1081.0 V 1071.4 M 1059.2 1071.4 H 1067.2 M 1085.5 912.0 V 907.9 M 1081.5 907.9 H 1089.5 M 1085.5 1018.0 V 1014.0 M 1081.5 1014.0 H 1089.5 M 1085.5 1068.0 V 1062.7 M 1081.5 1062.7 H 1089.5 M 1085.5 1146.0 V 1125.4 M 1081.5 1125.4 H 1089.5 M 1129.9 1035.1 V 1030.8 M 1125.9 1030.8 H 1133.9 M 1129.9 1127.6 V 1111.3 M 1125.9 1111.3 H 1133.9 M 1174.4 1027.5 V 1025.4 M 1170.4 1025.4 H 1178.4 M 1174.4 1104.8 V 1092.8 M 1170.4 1092.8 H 1178.4 M 1218.9 972.1 V 969.9 M 1214.9 969.9 H 1222.9 M 1263.4 979.5 V 976.4 M 1259.4 976.4 H 1267.4 M 1263.4 1024.3 V 1014.5 M 1259.4 1014.5 H 1267.4 M 1263.4 1066.7 V 1051.5 M 1259.4 1051.5 H 1267.4 M 1285.6 796.0 V 794.8 M 1281.6 794.8 H 1289.6 M 1285.6 1016.7 V 1013.4 M 1281.6 1013.4 H 1289.6 M 1285.6 1102.6 V 1088.4 M 1281.6 1088.4 H 1289.6 M 1285.6 1052.5 V 1047.1 M 1281.6 1047.1 H 1289.6" stroke="#000" stroke-width="1.6" fill="none"/>
<g clip-path="url(#plotB)" fill="none" stroke-width="6.8" stroke-linecap="round" stroke-linejoin="round">
<path d="M 796.4 1215.5 L 818.7 1145.8 L 840.9 1215.5 L 863.1 1125.4 L 885.4 1215.5 L 907.6 1215.5" stroke="#24a84f" stroke-dasharray="10.5 12.4"/>
<path d="M 907.6 1215.5 L 929.8 1090.6 L 952.1 1106.2 L 974.3 1120.1 L 996.5 1133.5 L 1018.8 1144.5 L 1041.0 1146.0 L 1063.2 1146.0 L 1085.5 1146.0 L 1107.7 1137.5 L 1129.9 1127.6 L 1152.2 1116.7 L 1174.4 1104.8 L 1196.6 1095.3 L 1218.9 1085.8 L 1241.1 1076.2 L 1263.4 1066.7 L 1285.6 1052.5" stroke="#24a84f" stroke-dasharray="10.5 12.4" stroke-dashoffset="7"/>
<path d="M 574.1 910.0 L 596.3 950.5 L 618.6 990.5 L 640.8 1030.5 L 663.0 1040.0 L 685.3 1047.0 L 707.5 1054.0 L 729.7 1049.0 L 752.0 1050.5 L 774.2 1044.0 L 796.4 1036.0 L 818.7 1028.0 L 840.9 1042.7 L 863.1 1030.5 L 885.4 1028.0 L 907.6 1031.4 L 929.8 1043.5 L 952.1 1056.5 L 974.3 1069.7 L 996.5 1080.0 L 1018.8 1070.6 L 1041.0 1059.2 L 1063.2 1081.0 L 1085.5 1068.0 L 1107.7 1053.0 L 1129.9 1035.1 L 1152.2 1029.7 L 1174.4 1027.5 L 1196.6 1026.4 L 1218.9 1025.4 L 1241.1 1024.9 L 1263.4 1024.3 L 1285.6 1102.6" stroke="#dc2a24" stroke-dasharray="10.5 12.4" stroke-dashoffset="5"/>
<path d="M 907.6 1215.5 L 929.8 1087.1 L 974.3 1080.1 L 996.5 1100.5 L 1018.8 1072.3 L 1041.0 1100.5 L 1063.2 1045.3 L 1085.5 1018.0 L 1129.9 909.0 L 1174.4 967.7 L 1218.9 972.1 L 1241.1 1008.0 L 1263.4 979.5 L 1285.6 1016.7" stroke="#24a84f"/>
<path d="M 418.5 1215.5 L 440.7 911.0 L 485.2 945.0 L 529.6 984.0 L 551.9 903.0 L 574.1 910.0 L 640.8 1068.5 L 685.3 1066.0 L 707.5 1085.0 L 729.7 1055.4 L 752.0 1053.0 L 818.7 1055.8 L 840.9 1049.7 L 863.1 1002.7 L 885.4 927.0 L 907.6 876.0 L 974.3 913.0 L 996.5 962.5 L 1018.8 946.0 L 1041.0 958.0 L 1085.5 912.0 L 1129.9 939.0 L 1174.4 968.0 L 1218.9 907.0 L 1263.4 907.0 L 1285.6 796.0" stroke="#dc2a24"/>
</g>
<text x="22.0" y="1252.7" font-family='"Liberation Serif", serif' font-size="47" text-anchor="middle" fill="#1f1c1d" >C</text>
<line x1="109.7" y1="1274.4" x2="109.7" y2="1689.0" stroke="#000" stroke-width="2.2" />
<text x="88.2" y="1280.8" font-family='"Liberation Sans", sans-serif' font-size="20.3" text-anchor="end" fill="#000" >10.7</text>
<text x="88.2" y="1332.5" font-family='"Liberation Sans", sans-serif' font-size="20.3" text-anchor="end" fill="#000" >9.7</text>
<text x="88.2" y="1384.2" font-family='"Liberation Sans", sans-serif' font-size="20.3" text-anchor="end" fill="#000" >8.7</text>
<text x="88.2" y="1435.9" font-family='"Liberation Sans", sans-serif' font-size="20.3" text-anchor="end" fill="#000" >7.7</text>
<text x="88.2" y="1487.6" font-family='"Liberation Sans", sans-serif' font-size="20.3" text-anchor="end" fill="#000" >6.7</text>
<text x="88.2" y="1539.3" font-family='"Liberation Sans", sans-serif' font-size="20.3" text-anchor="end" fill="#000" >5.7</text>
<text x="88.2" y="1591.0" font-family='"Liberation Sans", sans-serif' font-size="20.3" text-anchor="end" fill="#000" >4.7</text>
<text x="88.2" y="1642.7" font-family='"Liberation Sans", sans-serif' font-size="20.3" text-anchor="end" fill="#000" >3.7</text>
<text x="88.2" y="1694.4" font-family='"Liberation Sans", sans-serif' font-size="20.3" text-anchor="end" fill="#000" >2.7</text>
<text transform="translate(43.9,1484.7) rotate(-90)" font-family='"Liberation Sans", sans-serif' font-size="24" text-anchor="middle" fill="#000" textLength="400" lengthAdjust="spacingAndGlyphs">Microbiota recovery (Log<tspan font-size="16" dy="5">10</tspan><tspan dy="-5"> copies/µl)</tspan></text>
<line x1="109.7" y1="1688.7" x2="1322.0" y2="1688.7" stroke="#000" stroke-width="2.2" />
<line x1="110.1" y1="1688.0" x2="110.1" y2="1839.0" stroke="#000" stroke-width="2.2" />
<line x1="220.0" y1="1688.0" x2="220.0" y2="1839.0" stroke="#000" stroke-width="2.2" />
<line x1="330.0" y1="1688.0" x2="330.0" y2="1746.0" stroke="#000" stroke-width="2.2" />
<line x1="440.3" y1="1688.0" x2="440.3" y2="1746.0" stroke="#000" stroke-width="2.2" />
<line x1="550.8" y1="1688.0" x2="550.8" y2="1839.0" stroke="#000" stroke-width="2.2" />
<line x1="660.7" y1="1688.0" x2="660.7" y2="1839.0" stroke="#000" stroke-width="2.2" />
<line x1="770.6" y1="1688.0" x2="770.6" y2="1746.0" stroke="#000" stroke-width="2.2" />
<line x1="881.3" y1="1688.0" x2="881.3" y2="1746.0" stroke="#000" stroke-width="2.2" />
<line x1="991.9" y1="1688.0" x2="991.9" y2="1746.0" stroke="#000" stroke-width="2.2" />
<line x1="1101.3" y1="1688.0" x2="1101.3" y2="1746.0" stroke="#000" stroke-width="2.2" />
<line x1="1211.9" y1="1688.0" x2="1211.9" y2="1839.0" stroke="#000" stroke-width="2.2" />
<line x1="1320.9" y1="1688.0" x2="1320.9" y2="1839.0" stroke="#000" stroke-width="2.2" />
<text transform="translate(263.0,1723.3) rotate(-45)" font-family='"Liberation Sans", sans-serif' font-size="18" text-anchor="middle" dominant-baseline="central" fill="#000">D21</text>
<text transform="translate(373.1,1723.3) rotate(-45)" font-family='"Liberation Sans", sans-serif' font-size="18" text-anchor="middle" dominant-baseline="central" fill="#000">D24</text>
<text transform="translate(483.5,1723.3) rotate(-45)" font-family='"Liberation Sans", sans-serif' font-size="18" text-anchor="middle" dominant-baseline="central" fill="#000">D27</text>
<text transform="translate(703.7,1723.3) rotate(-45)" font-family='"Liberation Sans", sans-serif' font-size="18" text-anchor="middle" dominant-baseline="central" fill="#000">D34</text>
<text transform="translate(814.0,1723.3) rotate(-45)" font-family='"Liberation Sans", sans-serif' font-size="18" text-anchor="middle" dominant-baseline="central" fill="#000">D36</text>
<text transform="translate(924.6,1723.3) rotate(-45)" font-family='"Liberation Sans", sans-serif' font-size="18" text-anchor="middle" dominant-baseline="central" fill="#000">D39</text>
<text transform="translate(1034.6,1723.3) rotate(-45)" font-family='"Liberation Sans", sans-serif' font-size="18" text-anchor="middle" dominant-baseline="central" fill="#000">D41</text>
<text transform="translate(1144.6,1723.3) rotate(-45)" font-family='"Liberation Sans", sans-serif' font-size="18" text-anchor="middle" dominant-baseline="central" fill="#000">D43</text>
<text x="164.8" y="1779.8" font-family='"Liberation Sans", sans-serif' font-size="19" text-anchor="middle" fill="#000" >Pre-</text>
<text x="165.2" y="1805.0" font-family='"Liberation Sans", sans-serif' font-size="19.3" text-anchor="middle" fill="#000" >clindamycin</text>
<text x="385.0" y="1779.8" font-family='"Liberation Sans", sans-serif' font-size="19" text-anchor="middle" fill="#000" >Clindamycin</text>
<text x="605.7" y="1779.3" font-family='"Liberation Sans", sans-serif' font-size="19" text-anchor="middle" fill="#000" >Biofilm</text>
<text x="605.9" y="1805.8" font-family='"Liberation Sans", sans-serif' font-size="19" text-anchor="middle" fill="#000" >transfer (R</text>
<text x="605.9" y="1831.0" font-family='"Liberation Sans", sans-serif' font-size="19" text-anchor="middle" fill="#000" >only)</text>
<text x="959.9" y="1779.7" font-family='"Liberation Sans", sans-serif' font-size="18.5" text-anchor="end" fill="#000" >CDI induc</text>
<rect x="961" y="1766" width="9" height="13" fill="none" stroke="#000" stroke-width="1.1"/>
<path d="M 961 1766 L 970 1779 M 970 1766 L 961 1779" stroke="#000" stroke-width="1"/>
<text x="972.2" y="1779.7" font-family='"Liberation Sans", sans-serif' font-size="18.5" text-anchor="start" fill="#000" >on</text>
<text x="1266.6" y="1780.0" font-family='"Liberation Sans", sans-serif' font-size="19" text-anchor="middle" fill="#000" >End of</text>
<text x="1266.4" y="1805.5" font-family='"Liberation Sans", sans-serif' font-size="19.5" text-anchor="middle" fill="#000" >experiment</text>
<line x1="236.6" y1="1615" x2="288.2" y2="1615" stroke="#c4262e" stroke-width="3.4" />
<text x="293.2" y="1621.0" font-family='"Liberation Sans", sans-serif' font-size="17.5" text-anchor="start" fill="#000" >Prevotella Model C</text>
<line x1="236.6" y1="1646.5" x2="288.2" y2="1646.5" stroke="#c4262e" stroke-width="3.4" stroke-dasharray="14.5 8.5"/>
<text x="293.2" y="1652.5" font-family='"Liberation Sans", sans-serif' font-size="17.5" text-anchor="start" fill="#000" >Prevotella Model R</text>
<line x1="594.1" y1="1615" x2="645.7" y2="1615" stroke="#70ad47" stroke-width="3.4" />
<text x="650.7" y="1621.0" font-family='"Liberation Sans", sans-serif' font-size="17.5" text-anchor="start" fill="#000" >Bifidobacterium Model C</text>
<line x1="594.1" y1="1646.5" x2="645.7" y2="1646.5" stroke="#70ad47" stroke-width="3.4" stroke-dasharray="14.5 8.5"/>
<text x="650.7" y="1652.5" font-family='"Liberation Sans", sans-serif' font-size="17.5" text-anchor="start" fill="#000" >Bifidobacterium Model R</text>
<line x1="952.3" y1="1615" x2="1003.9" y2="1615" stroke="#4472c4" stroke-width="3.4" />
<text x="1008.9" y="1621.0" font-family='"Liberation Sans", sans-serif' font-size="17.5" text-anchor="start" fill="#000" >Enterobacteriaceae Model C</text>
<line x1="952.3" y1="1646.5" x2="1003.9" y2="1646.5" stroke="#4472c4" stroke-width="3.4" stroke-dasharray="14.5 8.5"/>
<text x="1008.9" y="1652.5" font-family='"Liberation Sans", sans-serif' font-size="17.5" text-anchor="start" fill="#000" >Enterobacteriaceae Model R</text>
<path d="M 165.0 1316.0 V 1320.8 M 160.7 1316.0 H 169.3 M 165.0 1335.0 V 1402.0 M 160.7 1335.0 H 169.3 M 160.7 1350.0 H 169.3 M 160.7 1354.8 H 169.3 M 160.7 1386.0 H 169.3 M 160.7 1398.3 H 169.3 M 275.2 1312.8 V 1320.8 M 270.9 1312.8 H 279.5 M 275.2 1363.3 V 1420.0 M 270.9 1363.3 H 279.5 M 270.9 1366.5 H 279.5 M 270.9 1376.5 H 279.5 M 270.9 1378.5 H 279.5 M 270.9 1411.5 H 279.5 M 385.3 1352.3 V 1356.5 M 381.0 1352.3 H 389.6 M 385.3 1380.0 V 1462.0 M 381.0 1380.1 H 389.6 M 381.0 1382.5 H 389.6 M 381.0 1429.8 H 389.6 M 381.0 1441.9 H 389.6 M 495.4 1381.4 V 1388.6 M 491.1 1381.4 H 499.7 M 495.4 1399.9 V 1464.0 M 491.1 1399.9 H 499.7 M 491.1 1412.2 H 499.7 M 491.1 1425.4 H 499.7 M 491.1 1454.7 H 499.7 M 491.1 1460.4 H 499.7 M 605.5 1385.7 V 1446.0 M 601.2 1385.7 H 609.8 M 601.2 1391.4 H 609.8 M 601.2 1416.9 H 609.8 M 601.2 1418.8 H 609.8 M 605.5 1482.0 V 1501.0 M 601.2 1482.1 H 609.8 M 601.2 1497.2 H 609.8 M 715.6 1347.2 V 1440.8 M 711.3 1347.2 H 719.9 M 711.3 1370.3 H 719.9 M 711.3 1377.5 H 719.9 M 711.3 1392.6 H 719.9 M 825.7 1329.3 V 1383.0 M 821.4 1329.3 H 830.0 M 821.4 1340.6 H 830.0 M 821.4 1352.8 H 830.0 M 821.4 1355.8 H 830.0 M 825.7 1411.0 V 1464.0 M 821.4 1411.0 H 830.0 M 935.8 1333.5 V 1382.6 M 931.5 1333.5 H 940.1 M 931.5 1350.5 H 940.1 M 1045.9 1319.3 V 1366.5 M 1041.6 1319.3 H 1050.2 M 1041.6 1322.1 H 1050.2 M 1041.6 1351.4 H 1050.2 M 1041.6 1361.8 H 1050.2 M 1156.0 1315.5 V 1321.6 M 1151.7 1315.5 H 1160.3 M 1151.7 1317.6 H 1160.3 M 1156.0 1331.8 V 1350.0 M 1151.7 1331.8 H 1160.3 M 1151.7 1345.1 H 1160.3 M 1156.0 1359.4 V 1364.0 M 1151.7 1359.4 H 1160.3 M 1156.0 1379.8 V 1385.0 M 1151.7 1379.8 H 1160.3 M 1266.1 1304.3 V 1332.0 M 1261.8 1304.3 H 1270.4 M 1261.8 1310.4 H 1270.4 M 1266.1 1343.5 V 1359.4 M 1261.8 1343.5 H 1270.4 M 1261.8 1349.6 H 1270.4 M 1261.8 1357.3 H 1270.4" stroke="#000" stroke-width="1.5" fill="none"/>
<g fill="none" stroke-width="3.6" stroke-linejoin="round">
<path d="M 165.0 1320.8 L 275.2 1320.8 L 385.3 1356.4 L 495.4 1388.6 L 605.5 1398.2 L 715.6 1380.3 L 825.7 1364.0 L 935.8 1360.9 L 1045.9 1366.5 L 1156.0 1349.2 L 1266.1 1363.9" stroke="#4472c4" stroke-dasharray="13 9.7"/>
<path d="M 165.0 1357.6 L 275.2 1369.9 L 385.3 1448.2 L 495.4 1462.3 L 605.5 1501.0 L 715.6 1370.3 L 825.7 1360.0 L 935.8 1355.2 L 1045.9 1356.2 L 1156.0 1363.9 L 1266.1 1346.1" stroke="#70ad47" stroke-dasharray="13 9.7"/>
<path d="M 165.0 1350.6 L 275.2 1367.1 L 385.3 1462.0 L 495.4 1464.2 L 605.5 1446.3 L 715.6 1440.8 L 825.7 1464.0 L 935.8 1382.6 L 1045.9 1344.7 L 1156.0 1350.2 L 1266.1 1331.8" stroke="#c4262e" stroke-dasharray="13 9.7"/>
<path d="M 165.0 1402.4 L 275.2 1380.9 L 385.3 1390.6 L 495.4 1417.9 L 605.5 1422.7 L 715.6 1387.3 L 825.7 1347.0 L 935.8 1357.1 L 1045.9 1357.0 L 1156.0 1321.6 L 1266.1 1359.4" stroke="#4472c4"/>
<path d="M 165.0 1390.7 L 275.2 1420.6 L 385.3 1405.0 L 495.4 1464.2 L 605.5 1492.5 L 715.6 1399.2 L 825.7 1364.0 L 935.8 1369.4 L 1045.9 1366.5 L 1156.0 1384.9 L 1266.1 1358.4" stroke="#70ad47"/>
<path d="M 165.0 1387.3 L 275.2 1414.9 L 385.3 1418.0 L 495.4 1438.7 L 605.5 1426.3 L 715.6 1406.8 L 825.7 1382.3 L 935.8 1359.0 L 1045.9 1344.7 L 1156.0 1324.3 L 1266.1 1320.2" stroke="#c4262e"/>
</g>
</svg>
</body></html>
